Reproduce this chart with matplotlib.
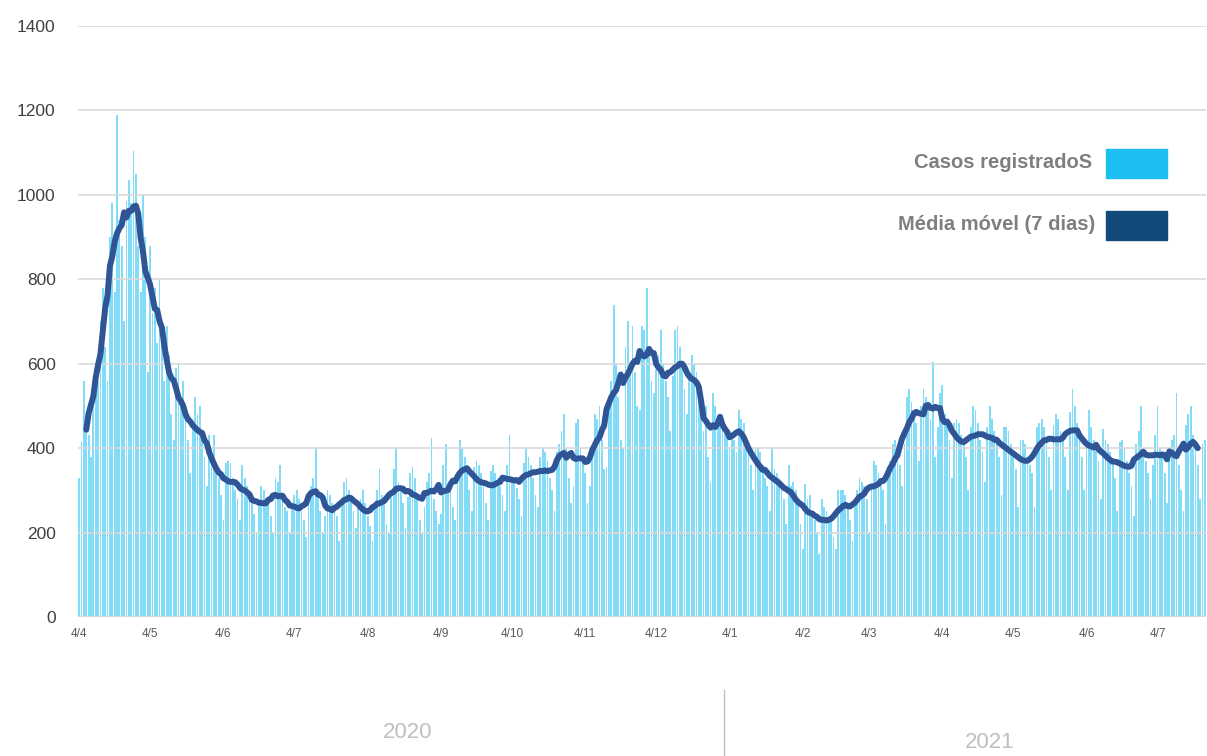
import matplotlib
matplotlib.use("Agg")
import matplotlib.pyplot as plt
import matplotlib.patches as mpatches
import pandas as pd

plt.rcParams["font.family"] = ["Liberation Sans", "DejaVu Sans"]

START_DATE = "2020-04-04"

# casos registrados por dia (uma linha = uma semana, a partir de 4/4/2020)
casos = [
    330, 415, 560, 470, 430, 380, 520,
    600, 560, 700, 780, 640, 560, 900,
    980, 770, 1190, 940, 880, 700, 985,
    1035, 980, 1105, 1050, 880, 770, 1000,
    900, 580, 880, 720, 780, 650, 800,
    700, 560, 690, 620, 480, 420, 590,
    600, 520, 560, 470, 420, 340, 450,
    520, 480, 500, 430, 380, 310, 430,
    400, 430, 350, 330, 290, 230, 365,
    370, 365, 330, 300, 280, 230, 360,
    330, 310, 300, 290, 245, 200, 270,
    310, 300, 280, 285, 240, 200, 330,
    320, 360, 290, 260, 250, 200, 260,
    290, 300, 280, 250, 230, 190, 295,
    310, 330, 400, 300, 250, 200, 240,
    300, 290, 270, 250, 240, 180, 280,
    320, 330, 300, 290, 250, 210, 270,
    280, 300, 270, 240, 215, 180, 265,
    300, 350, 290, 280, 220, 200, 285,
    350, 400, 320, 300, 270, 210, 285,
    340, 355, 330, 280, 230, 200, 260,
    320, 340, 425, 280, 250, 220, 245,
    360, 410, 300, 300, 260, 230, 340,
    420, 400, 380, 360, 300, 250, 355,
    370, 360, 340, 310, 270, 230, 345,
    360, 340, 330, 310, 290, 250, 360,
    430, 330, 320, 305, 280, 240, 365,
    400, 380, 360, 330, 290, 260, 380,
    400, 390, 370, 330, 300, 250, 390,
    410, 440, 480, 400, 330, 270, 310,
    460, 470, 400, 380, 340, 270, 310,
    400, 480, 470, 500, 420, 350, 355,
    520, 560, 740, 600, 520, 420, 400,
    640, 700, 600, 690, 580, 500, 490,
    690, 680, 780, 620, 560, 530, 585,
    620, 680, 600, 560, 520, 440, 570,
    680, 690, 640, 600, 540, 480, 570,
    620, 600, 580, 560, 520, 440, 500,
    380, 320, 530, 500, 470, 480, 470,
    440, 430, 400, 430, 420, 390, 490,
    470, 460, 420, 390, 360, 300, 400,
    400, 390, 360, 330, 310, 250, 400,
    350, 340, 330, 300, 280, 220, 360,
    310, 320, 300, 280, 220, 160, 315,
    280, 290, 250, 230, 200, 150, 280,
    260, 250, 240, 230, 190, 160, 300,
    300, 300, 290, 260, 230, 180, 275,
    300, 330, 320, 310, 280, 200, 305,
    370, 360, 340, 310, 300, 220, 355,
    370, 410, 420, 400, 360, 310, 410,
    520, 540, 510, 480, 460, 370, 500,
    540, 520, 500, 470, 605, 380, 450,
    530, 550, 480, 470, 420, 330, 460,
    470, 460, 430, 410, 380, 300, 450,
    500, 490, 460, 420, 390, 320, 450,
    500, 470, 440, 410, 380, 290, 450,
    450, 440, 410, 380, 350, 260, 420,
    420, 410, 380, 360, 340, 260, 450,
    460, 470, 450, 420, 380, 300, 455,
    480, 470, 440, 420, 380, 300, 485,
    540, 500, 460, 430, 380, 300, 400,
    490, 450, 420, 400, 370, 280, 445,
    420, 410, 390, 360, 330, 250, 415,
    420, 400, 370, 340, 310, 240, 410,
    440, 500, 400, 370, 340, 280, 360,
    430, 500, 400, 380, 340, 270, 375,
    420, 430, 530, 360, 300, 250, 455,
    480, 500, 430, 400, 360, 280, 410,
    420,
]

tick_labels = ["4/4", "4/5", "4/6", "4/7", "4/8", "4/9", "4/10", "4/11",
               "4/12", "4/1", "4/2", "4/3", "4/4", "4/5", "4/6", "4/7"]
y_ticks = [0, 200, 400, 600, 800, 1000, 1200, 1400]
anos = ["2020", "2021"]

BAR_COLOR = "#1BBFF2"
LINE_COLOR = "#2F5597"
LEGEND_DARK = "#134A7C"
TEXT_GRAY = "#7F7F7F"

dates = pd.date_range(START_DATE, periods=len(casos), freq="D")
serie = pd.Series(casos, index=dates)
media = serie.rolling(7, center=True).mean()

day_idx = list(range(len(casos)))
# um tick no dia 4 de cada mes
tick_dates = pd.date_range("2020-04-01", periods=len(tick_labels), freq="MS") + pd.Timedelta(days=3)
tick_pos = [(d - dates[0]).days for d in tick_dates]

fig = plt.figure(figsize=(12.07, 7.56), dpi=100)
ax = fig.add_axes([0.0646, 0.1839, 0.9346, 0.7817])

ax.bar(day_idx, serie.values, width=0.75, color=BAR_COLOR, alpha=0.55,
       linewidth=0, zorder=1)
for yv in y_ticks[1:]:
    ax.axhline(yv, color="#D9D9D9", linewidth=1.2, zorder=2)
ax.axhline(0, color="#D9D9D9", linewidth=1.2, zorder=2)
ax.plot(day_idx, media.values, color=LINE_COLOR, linewidth=4.3,
        solid_capstyle="round", solid_joinstyle="round", zorder=3)

ax.set_xlim(-0.5, len(casos) - 0.5)
ax.set_ylim(0, 1400)
ax.set_yticks(y_ticks)
ax.set_yticklabels([str(v) for v in y_ticks], fontsize=12.5, color="#404040")
ax.set_xticks(tick_pos)
ax.set_xticklabels(tick_labels, fontsize=8.5, color="#595959")
ax.tick_params(axis="both", length=0)
ax.tick_params(axis="y", pad=16)
ax.tick_params(axis="x", pad=8)
for s in ax.spines.values():
    s.set_visible(False)

# legenda
fig.text(1092 / 1207, 1 - 163 / 756, "Casos registradoS", ha="right",
         va="center", fontsize=14.5, fontweight="bold", color=TEXT_GRAY)
fig.text(1095 / 1207, 1 - 224 / 756, "Média móvel (7 dias)", ha="right",
         va="center", fontsize=14.5, fontweight="bold", color=TEXT_GRAY)
fig.patches.append(mpatches.Rectangle((1106 / 1207, 1 - 178 / 756), 61 / 1207, 29 / 756,
                                      transform=fig.transFigure, color=BAR_COLOR))
fig.patches.append(mpatches.Rectangle((1106 / 1207, 1 - 240 / 756), 61 / 1207, 29 / 756,
                                      transform=fig.transFigure, color=LEGEND_DARK))

# anos
fig.text(408 / 1207, 1 - 733 / 756, anos[0], ha="center", va="center",
         fontsize=16, color="#BFBFBF")
fig.text(990 / 1207, 1 - 742 / 756, anos[1], ha="center", va="center",
         fontsize=16, color="#BFBFBF")
fig.add_artist(plt.Line2D([724 / 1207, 724 / 1207], [0, 1 - 690 / 756],
                          transform=fig.transFigure, color="#BFBFBF", linewidth=1))

fig.savefig("out.png", dpi=100)
